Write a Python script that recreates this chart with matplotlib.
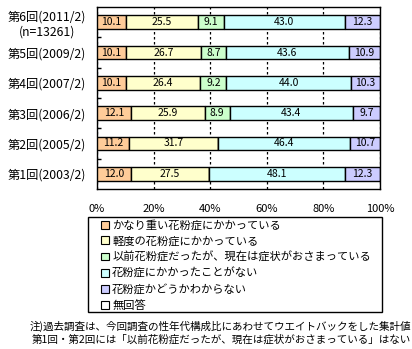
import matplotlib
matplotlib.use("Agg")
import matplotlib.pyplot as plt
from matplotlib.patches import Patch, Rectangle
import numpy as np

plt.rcParams['font.family'] = ['Noto Sans CJK JP', 'DejaVu Sans']

# データ (上から第6回 ... 第1回)
rounds = ['第6回(2011/2)\n(n=13261)', '第5回(2009/2)', '第4回(2007/2)',
          '第3回(2006/2)', '第2回(2005/2)', '第1回(2003/2)']
heavy = [10.1, 10.1, 10.1, 12.1, 11.2, 12.0]
light = [25.5, 26.7, 26.4, 25.9, 31.7, 27.5]
recovered = [9.1, 8.7, 9.2, 8.9, 0.0, 0.0]
never = [43.0, 43.6, 44.0, 43.4, 46.4, 48.1]
unknown = [12.3, 10.9, 10.3, 9.7, 10.7, 12.3]
no_answer = [0.0, 0.0, 0.0, 0.0, 0.0, 0.0]

labels = ['かなり重い花粉症にかかっている', '軽度の花粉症にかかっている',
          '以前花粉症だったが、現在は症状がおさまっている', '花粉症にかかったことがない',
          '花粉症かどうかわからない', '無回答']
colors = ['#FFCC99', '#FFFFCC', '#CCFFCC', '#CCFFFF', '#CCCCFF', '#FFFFFF']
series = [heavy, light, recovered, never, unknown, no_answer]

W, H = 412, 349
fig = plt.figure(figsize=(W / 100, H / 100), dpi=100)
ax = fig.add_axes([97 / W, 1 - 189 / H, 283 / W, 182 / H])

y = np.arange(len(rounds))
left = np.zeros(len(rounds))
for vals, col in zip(series, colors):
    vals = np.array(vals)
    ax.barh(y, vals, left=left, height=0.46, color=col, edgecolor='black',
            linewidth=1, zorder=3)
    for yi, l, v in zip(y, left, vals):
        if v > 0:
            ax.text(l + v / 2, yi, f'{v:.1f}', ha='center', va='center',
                    fontsize=7.5, zorder=4)
    left += vals

ax.set_xlim(0, 100)
ax.set_ylim(len(rounds) - 0.5, -0.5)
ax.set_xticks([0, 20, 40, 60, 80, 100])
ax.set_xticklabels(['0%', '20%', '40%', '60%', '80%', '100%'], fontsize=8)
ax.tick_params(axis='x', length=0, pad=11)
ax.set_yticks(y)
ax.set_yticklabels(rounds, fontsize=8.8, linespacing=1.15)
ax.tick_params(axis='y', which='major', length=0, pad=8)
ax.set_yticks(np.arange(0.5, len(rounds) - 0.5, 1), minor=True)
ax.tick_params(axis='y', which='minor', direction='in', length=3, width=1)
for lab in ax.get_yticklabels():
    lab.set_horizontalalignment('right')
    lab.set_multialignment('center')

ax.grid(axis='x', color='black', linestyle=(0, (2, 2)), linewidth=0.9, zorder=0)
for s in ax.spines.values():
    s.set_linewidth(1)

# 凡例 (枠は別に描く)
fig.add_artist(Rectangle((88 / W, 1 - 312 / H), 294 / W, 95 / H,
                         transform=fig.transFigure, facecolor='none',
                         edgecolor='black', linewidth=1))
handles = [Patch(facecolor=c, edgecolor='black', linewidth=0.8) for c in colors]
leg = fig.legend(handles, labels, loc='upper left',
                 bbox_to_anchor=(101 / W, 1 - 220 / H),
                 fontsize=8.1, frameon=False,
                 handlelength=0.7, handleheight=0.7, handletextpad=0.3,
                 labelspacing=0.45, borderpad=0, borderaxespad=0)

fig.text(0.997, 1 - 326 / H, '注)過去調査は、今回調査の性年代構成比にあわせてウエイトバックをした集計値',
         ha='right', va='center', fontsize=7.6)
fig.text(0.997, 1 - 340 / H, '第1回・第2回には「以前花粉症だったが、現在は症状がおさまっている」はない',
         ha='right', va='center', fontsize=7.6)

fig.savefig('out.png', dpi=100)
